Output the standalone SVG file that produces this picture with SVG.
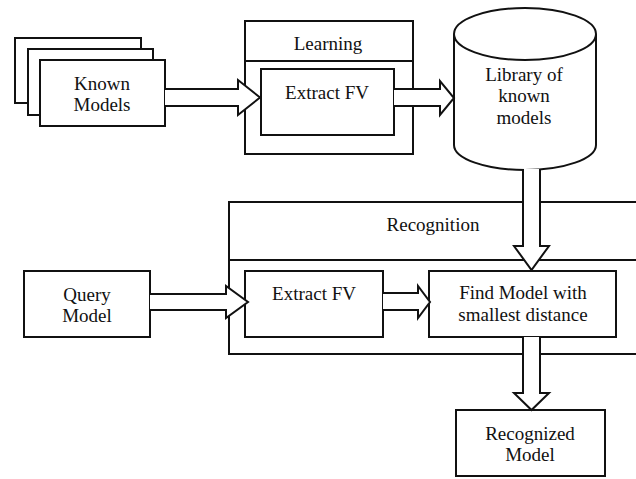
<svg xmlns="http://www.w3.org/2000/svg" width="636" height="479" viewBox="0 0 636 479">
<style>
.b{fill:#fff;stroke:#111;stroke-width:2}
.a{fill:#fff;stroke:#111;stroke-width:2;stroke-linejoin:miter}
.l{stroke:#111;stroke-width:2;fill:none}
text{font-family:"Liberation Serif","Times New Roman",serif;font-size:19px;fill:#111;text-anchor:middle}
</style>
<rect width="636" height="479" fill="#fff"/>
<g id="known-models">
<rect class="b" x="15" y="38" width="126" height="65"/>
<rect class="b" x="28" y="49" width="125" height="66"/>
<rect class="b" x="40" y="60" width="125" height="66"/>
<text x="102" y="90">Known</text>
<text x="102" y="111">Models</text>
</g>
<g id="learning">
<rect class="b" x="245" y="21" width="168" height="133"/>
<line class="l" x1="245" y1="61" x2="413" y2="61"/>
<text x="328" y="50">Learning</text>
</g>
<g id="extract-fv-learning">
<rect class="b" x="261" y="69" width="133" height="66"/>
<text x="327" y="99">Extract FV</text>
</g>
<g id="library">
<path class="b" d="M454 34 V145 A71 25 0 0 0 596 145 V34"/>
<ellipse class="b" cx="525" cy="34" rx="71" ry="26"/>
<text x="524" y="81">Library of</text>
<text x="524" y="102">known</text>
<text x="524" y="124">models</text>
</g>
<g id="recognition">
<rect class="b" x="229" y="202" width="420" height="152"/>
<line class="l" x1="229" y1="260" x2="640" y2="260"/>
<text x="433" y="231">Recognition</text>
</g>
<g id="query-model">
<rect class="b" x="24" y="271" width="126" height="66"/>
<text x="87" y="301">Query</text>
<text x="87" y="322">Model</text>
</g>
<g id="extract-fv-recognition">
<rect class="b" x="245" y="271" width="138" height="66"/>
<text x="314" y="300">Extract FV</text>
</g>
<g id="find-model">
<rect class="b" x="429" y="271" width="187" height="66"/>
<text x="523" y="299">Find Model with</text>
<text x="523" y="321">smallest distance</text>
</g>
<g id="recognized-model">
<rect class="b" x="456" y="410" width="149" height="66"/>
<text x="530" y="440">Recognized</text>
<text x="530" y="461">Model</text>
</g>
<g id="connectors">
<path class="a" d="M165 89 H238 V80 L260 97.5 L238 115 V106 H165"/>
<path class="a" d="M394 89 H440 V81 L454 98 L440 115 V106 H394"/>
<path class="a" d="M523 169 V246 H514 L531.5 270 L549 246 H540 V169"/>
<path class="a" d="M150 294 H226 V286 L248 302 L226 318 V310 H150"/>
<path class="a" d="M383 293 H418 V286 L430 302 L418 318 V310 H383"/>
<path class="a" d="M523 337 V393 H514 L531.5 410 L549 393 H540 V337"/>
</g>
</svg>
